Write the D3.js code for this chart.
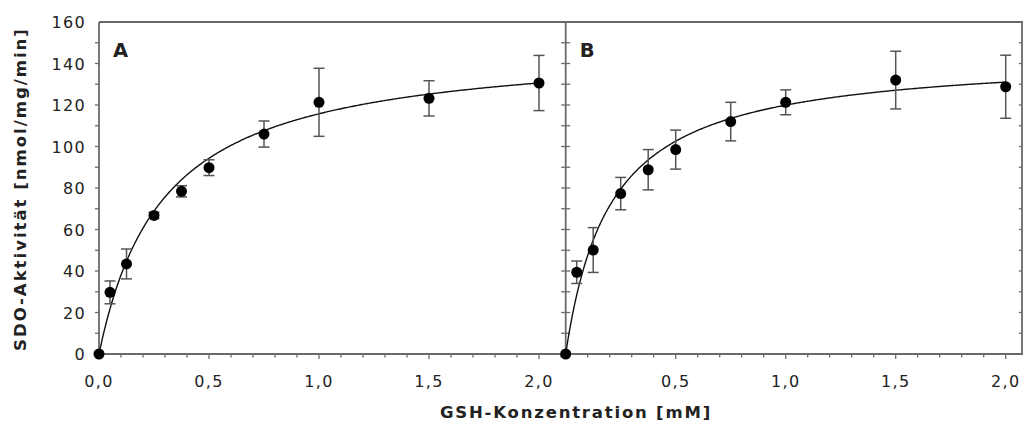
<!DOCTYPE html>
<html>
<head>
<meta charset="utf-8">
<script src="https://cdn.jsdelivr.net/npm/d3@7"></script>
<style>
  html, body { margin: 0; padding: 0; background: #fff; }
  svg { display: block; }
  text { font-family: "DejaVu Sans", Verdana, sans-serif; fill: #222; }
</style>
</head>
<body>
<svg id="chart" width="1023" height="426"></svg>
<script>
// ---- data ----
const concA = [0, 0.05, 0.125, 0.25, 0.375, 0.5, 0.75, 1.0, 1.5, 2.0];
const actA  = [0, 29.7, 43.4, 66.8, 78.4, 89.8, 106.0, 121.3, 123.2, 130.6];
const errA  = [0, 5.5, 7.2, 1.5, 2.7, 3.8, 6.3, 16.4, 8.5, 13.3];

const concB = [0, 0.05, 0.125, 0.25, 0.375, 0.5, 0.75, 1.0, 1.5, 2.0];
const actB  = [0, 39.4, 50.1, 77.3, 88.8, 98.5, 112.0, 121.3, 132.0, 128.8];
const errB  = [0, 5.4, 10.8, 7.8, 9.7, 9.4, 9.3, 6.0, 13.9, 15.2];

// Michaelis-Menten fit parameters [Vmax, Km]
const fitA = [149.8, 0.294];
const fitB = [144.4, 0.204];

const panelLabels = ["A", "B"];
const yTicks = [0, 20, 40, 60, 80, 100, 120, 140, 160];
const xTickLabelsA = [0, 0.5, 1.0, 1.5, 2.0];
const xTickLabelsB = [0.5, 1.0, 1.5, 2.0];
const xTitle = "GSH-Konzentration [mM]";
const yTitle = "SDO-Aktivität [nmol/mg/min]";

// ---- layout ----
const svg = d3.select("#chart");
const plotTop = 22, plotBottom = 354;
const axA0 = 99, axB0 = 565.7, axEnd = 1022;
const pxPerUnit = 220;
const axisColor = "#6a6a6a";

const y = d3.scaleLinear().domain([0, 160]).range([plotBottom, plotTop]);
const xA = d3.scaleLinear().domain([0, (axB0 - axA0) / pxPerUnit]).range([axA0, axB0]);
const xB = d3.scaleLinear().domain([0, (axEnd - axB0) / pxPerUnit]).range([axB0, axEnd]);
const fmt = d => d3.format(".1f")(d).replace(".", ",");

// top border
svg.append("line").attr("x1", axA0).attr("x2", 1023).attr("y1", plotTop).attr("y2", plotTop)
  .attr("stroke", axisColor).attr("stroke-width", 1.8);

// x axes
function xAxis(x, labels, xEnd) {
  const g = svg.append("g");
  g.append("line").attr("x1", x.range()[0]).attr("x2", xEnd)
    .attr("y1", plotBottom).attr("y2", plotBottom).attr("stroke", axisColor).attr("stroke-width", 1.8);
  const minor = d3.range(1, Math.floor(x.domain()[1] * 10 + 1e-6) + 1).map(i => i / 10)
    .filter(v => Math.abs(v * 2 - Math.round(v * 2)) > 1e-6);
  g.selectAll(".mn").data(minor).enter().append("line")
    .attr("x1", d => x(d)).attr("x2", d => x(d)).attr("y1", plotBottom).attr("y2", plotBottom + 3.5)
    .attr("stroke", axisColor).attr("stroke-width", 1.3);
  const major = d3.range(0, Math.floor(x.domain()[1] * 2 + 1e-6) + 1).map(i => i / 2).filter(v => v > 0);
  g.selectAll(".mj").data(major).enter().append("line")
    .attr("x1", d => x(d)).attr("x2", d => x(d)).attr("y1", plotBottom).attr("y2", plotBottom + 5)
    .attr("stroke", axisColor).attr("stroke-width", 1.3);
  g.selectAll(".lb").data(labels).enter().append("text")
    .attr("x", d => x(d)).attr("y", 387).attr("text-anchor", "middle")
    .attr("font-size", 16).attr("letter-spacing", 1.3).text(fmt);
}
xAxis(xA, xTickLabelsA, axB0);
xAxis(xB, xTickLabelsB, 1023);

// y axes
function yAxis(xpos, left, right, labels) {
  const g = svg.append("g");
  g.append("line").attr("x1", xpos).attr("x2", xpos).attr("y1", plotTop).attr("y2", plotBottom)
    .attr("stroke", axisColor).attr("stroke-width", 1.8);
  const ticks = d3.range(10, 160, 10);
  g.selectAll("line.t").data(ticks).enter().append("line")
    .attr("x1", xpos - left).attr("x2", xpos + right)
    .attr("y1", d => y(d)).attr("y2", d => y(d))
    .attr("stroke", axisColor).attr("stroke-width", 1.3);
  if (labels) {
    g.selectAll("text").data(yTicks).enter().append("text")
      .attr("x", xpos - 13).attr("y", d => y(d) + 6).attr("text-anchor", "end")
      .attr("font-size", 16).attr("letter-spacing", 1.3).text(d => d);
  }
}
yAxis(axA0, 4, 0, true);
yAxis(axB0, 4.5, 4.5, false);
yAxis(axEnd, 3, 0, false);

// panels
function panel(x, conc, act, err, fit, label) {
  const g = svg.append("g");
  const [vmax, km] = fit;
  const xs = d3.range(0, 2.0001, 0.005);
  const line = d3.line().x(d => x(d)).y(d => y(vmax * d / (km + d)));
  g.append("path").datum(xs).attr("d", line).attr("fill", "none")
    .attr("stroke", "#111").attr("stroke-width", 1.4);
  const pts = conc.map((c, i) => ({ c, v: act[i], e: err[i] }));
  const eb = g.selectAll(".eb").data(pts.filter(p => p.e > 0)).enter().append("g")
    .attr("stroke", "#555").attr("stroke-width", 1.5);
  eb.append("line").attr("x1", d => x(d.c)).attr("x2", d => x(d.c))
    .attr("y1", d => y(d.v - d.e)).attr("y2", d => y(d.v + d.e));
  eb.append("line").attr("x1", d => x(d.c) - 5.5).attr("x2", d => x(d.c) + 5.5)
    .attr("y1", d => y(d.v + d.e)).attr("y2", d => y(d.v + d.e));
  eb.append("line").attr("x1", d => x(d.c) - 5.5).attr("x2", d => x(d.c) + 5.5)
    .attr("y1", d => y(d.v - d.e)).attr("y2", d => y(d.v - d.e));
  g.selectAll("circle").data(pts).enter().append("circle")
    .attr("cx", d => x(d.c)).attr("cy", d => y(d.v)).attr("r", 5.5).attr("fill", "#000");
  g.append("text").attr("x", x(0) + 14).attr("y", 57).attr("font-size", 19.5)
    .attr("font-weight", "bold").attr("fill", "#111").text(label);
}
panel(xA, concA, actA, errA, fitA, panelLabels[0]);
panel(xB, concB, actB, errB, fitB, panelLabels[1]);

// titles
svg.append("text").attr("x", 576).attr("y", 418).attr("text-anchor", "middle")
  .attr("font-size", 16.5).attr("font-weight", "bold").attr("letter-spacing", 1.8).text(xTitle);
svg.append("text").attr("transform", "translate(26,189) rotate(-90)").attr("text-anchor", "middle")
  .attr("font-size", 16.5).attr("font-weight", "bold").attr("letter-spacing", 2).text(yTitle);
</script>
</body>
</html>
